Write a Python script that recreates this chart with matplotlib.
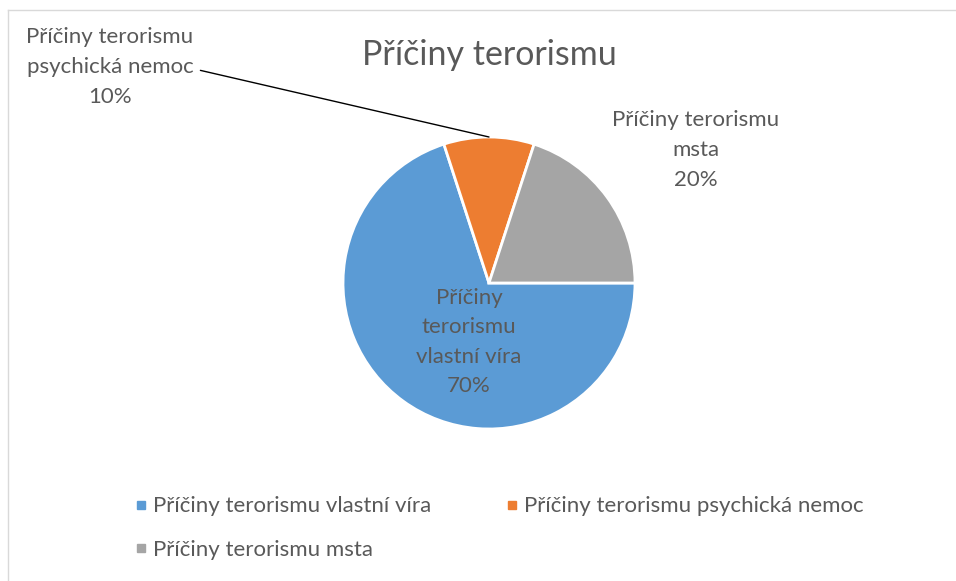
import matplotlib.pyplot as plt
from matplotlib.lines import Line2D
import numpy as np

plt.rcParams['font.family'] = ['Lato', 'DejaVu Sans']

# data
categories = ['Příčiny terorismu vlastní víra',
              'Příčiny terorismu psychická nemoc',
              'Příčiny terorismu msta']
label_lines = ['Příčiny\nterorismu\nvlastní víra',
               'Příčiny terorismu\npsychická nemoc',
               'Příčiny terorismu\nmsta']
shares = [70, 10, 20]
colors = ['#5B9BD5', '#ED7D31', '#A5A5A5']
title = 'Příčiny terorismu'

W, H = 956, 581
txt_col = '#595959'

fig = plt.figure(figsize=(W / 100, H / 100), dpi=100)
ax = fig.add_axes([0, 0, 1, 1])

cx, cy, r = 489, H - 283, 146
wedges, _ = ax.pie(shares, colors=colors, startangle=0, counterclock=False,
                   center=(cx, cy), radius=r,
                   wedgeprops=dict(edgecolor='white', linewidth=2))
ax.set_xlim(0, W)
ax.set_ylim(0, H)
ax.set_aspect('equal')
ax.axis('off')

# data labels (pixel positions, y from top)
lab_pos = [(469, 342), (110, 67), (696, 150)]
for i, (lx, ly) in enumerate(lab_pos):
    s = label_lines[i] + '\n%d%%' % shares[i]
    if i == 1:
        w = wedges[i]
        mid = np.deg2rad((w.theta1 + w.theta2) / 2)
        tip = (cx + r * np.cos(mid), cy + r * np.sin(mid))
        ax.annotate(s, xy=tip, xytext=(lx, H - ly), ha='center', va='center',
                    fontsize=16, color=txt_col, linespacing=1.6,
                    arrowprops=dict(arrowstyle='-', color='black', lw=1,
                                    relpos=(1.0, 0.5), shrinkA=3, shrinkB=0,
                                    connectionstyle='angle,angleA=0,angleB=167,rad=0'))
    else:
        ax.text(lx, H - ly, s, ha='center', va='center', fontsize=16,
                color=txt_col, linespacing=1.6)

fig.text(489 / W, 1 - 55 / H, title, ha='center', va='center',
         fontsize=24.5, color=txt_col)

# legend fills column-wise: reorder so the layout reads like the original
order = [0, 2, 1]
handles = [Line2D([], [], marker='s', linestyle='none', markersize=6,
                  markerfacecolor=colors[i], markeredgecolor=colors[i]) for i in order]
fig.legend(handles, [categories[i] for i in order], ncol=2, loc='center left',
           bbox_to_anchor=(115 / W, 1 - 528 / H), frameon=False,
           fontsize=16, labelcolor=txt_col, handlelength=0.5,
           handletextpad=0.3, columnspacing=3.4, labelspacing=1.05)

# chart border
fig.add_artist(Line2D([8 / W, 8 / W], [0, 1 - 10 / H], color='#D9D9D9', lw=1))
fig.add_artist(Line2D([8 / W, 1], [1 - 10 / H, 1 - 10 / H], color='#D9D9D9', lw=1))

fig.savefig('out.png', dpi=100)
